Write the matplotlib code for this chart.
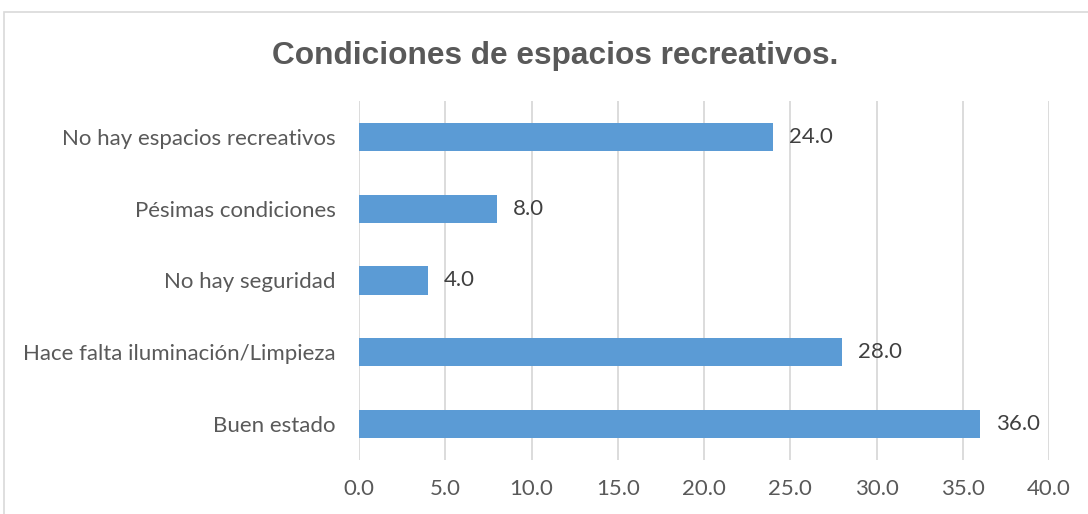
import matplotlib.pyplot as plt
from matplotlib.patches import Rectangle

# Data (bottom to top, as drawn)
categories = ["Buen estado", "Hace falta iluminación/Limpieza", "No hay seguridad",
              "Pésimas condiciones", "No hay espacios recreativos"]
values = [36.0, 28.0, 4.0, 8.0, 24.0]
x_ticks = [0, 5, 10, 15, 20, 25, 30, 35, 40]

bar_color = "#5B9BD5"
text_color = "#595959"
grid_color = "#D9D9D9"

plt.rcParams["font.family"] = ["Lato", "DejaVu Sans"]

fig = plt.figure(figsize=(10.88, 5.14), dpi=100)

# Chart border (cropped on right and bottom like the reference)
fig.patches.append(Rectangle((4 / 1088, -0.1), 1.2, (514 - 12) / 514 + 0.1,
                             transform=fig.transFigure, fill=False,
                             edgecolor=grid_color, linewidth=1.2))

ax = fig.add_axes([359 / 1088, 1 - 460 / 514, 690 / 1088, 359 / 514])

ypos = range(len(categories))
ax.barh(ypos, values, height=0.39, color=bar_color, zorder=3)

for y, v in zip(ypos, values):
    ax.text(v + 0.9, y, f"{v:.1f}", va="center", ha="left",
            fontsize=16, color="#404040")

ax.set_xlim(0, 40)
ax.set_ylim(-0.5, len(categories) - 0.5)
ax.set_xticks(x_ticks)
ax.set_xticklabels([f"{t:.1f}" for t in x_ticks])
ax.set_yticks(list(ypos))
ax.set_yticklabels(categories)

ax.grid(axis="x", color=grid_color, linewidth=1.3, zorder=0)
ax.tick_params(axis="both", length=0, labelsize=16, labelcolor=text_color)
ax.tick_params(axis="x", pad=14)
ax.tick_params(axis="y", pad=17)
for s in ax.spines.values():
    s.set_visible(False)

fig.text(555 / 1088, 1 - 56 / 514, "Condiciones de espacios recreativos.",
         ha="center", va="center", fontsize=22.8, fontweight="bold",
         color=text_color, family=["Liberation Sans", "DejaVu Sans"])

fig.savefig("out.png", dpi=100)
